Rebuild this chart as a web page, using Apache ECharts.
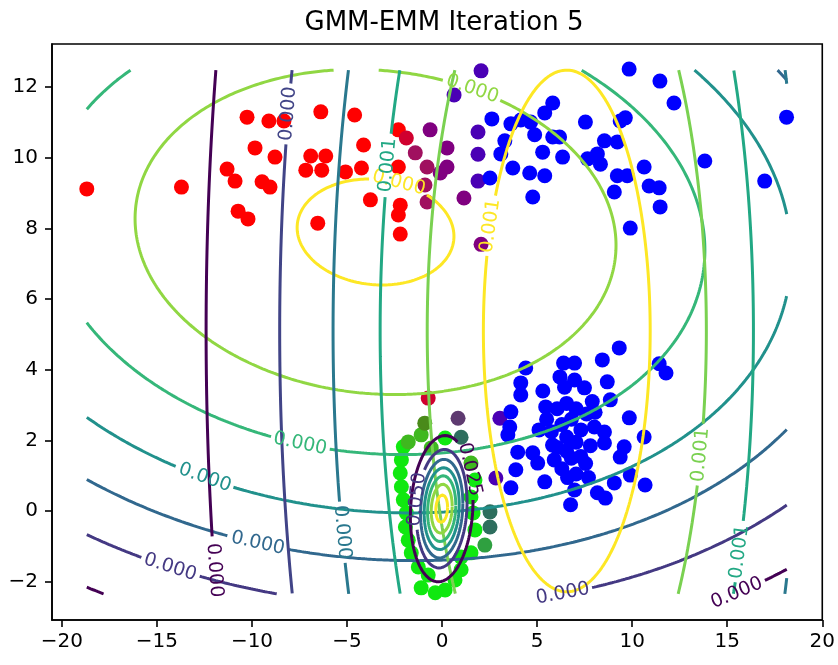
<!DOCTYPE html>
<html><head><meta charset="utf-8">
<script src="https://cdn.jsdelivr.net/npm/echarts@6/dist/echarts.min.js"></script>
<style>html,body{margin:0;padding:0;background:#fff}#c{width:838px;height:665px}</style>
</head><body><div id="c"></div>
<script>
const chartTitle = 'GMM-EMM Iteration 5';
const xTicks = [-20, -15, -10, -5, 0, 5, 10, 15, 20];
const yTicks = [-2, 0, 2, 4, 6, 8, 10, 12];
const xLimits = [-20.52, 20.0];
const yLimits = [-3.08, 13.22];
const gridExtent = [-18.69, 18.13, -2.34, 12.48]; // x0, x1, y0, y1 of the contour grid

// scatter points, grouped by responsibility colour
const redPts = [[-18.69,9.12],[-13.71,9.17],[-10.26,11.15],[-9.11,11.04],[-8.32,11.04],[-6.38,11.30],[-4.60,11.21],[-9.84,10.28],[-8.79,10.02],[-6.91,10.05],[-6.12,10.05],[-11.31,9.68],[-10.89,9.34],[-9.47,9.32],[-9.05,9.17],[-7.17,9.65],[-6.33,9.65],[-5.08,9.60],[-10.73,8.49],[-10.21,8.27],[-6.54,8.15],[-4.13,10.36],[-4.24,9.71],[-2.30,10.79],[-2.30,9.74],[-3.77,8.81],[-2.20,8.66],[-2.30,8.38],[-2.20,7.84]];
const darkRedPts = [[-1.88,10.56],[-0.73,3.20]];
const maroonPts = [[-1.41,10.14],[-0.79,9.74],[-0.90,9.23],[-0.79,8.75]];
const purplePts = [[-0.63,10.79],[0.26,10.28],[0.26,9.74],[-0.10,9.57],[1.15,8.86],[2.05,7.55]];
const violetPts = [[0.63,11.78],[1.89,10.73],[1.89,10.10],[1.89,9.34],[2.05,12.46],[3.04,2.63],[2.83,0.94]];
const bluePts = [[9.84,12.51],[11.46,12.17],[12.20,11.55],[13.82,9.91],[16.97,9.34],[18.12,11.15],[5.82,11.55],[5.40,11.27],[2.62,11.10],[3.62,10.96],[4.14,11.07],[4.66,11.01],[7.54,11.01],[9.64,11.13],[9.37,11.04],[4.87,10.65],[5.82,10.59],[6.18,10.59],[3.30,10.48],[5.29,10.16],[6.34,10.02],[8.54,10.48],[9.22,10.45],[3.09,10.11],[7.65,9.97],[8.17,10.11],[8.33,9.82],[10.63,9.74],[9.22,9.49],[9.74,9.49],[3.72,9.71],[2.52,9.43],[4.61,9.57],[5.40,9.49],[10.89,9.20],[11.42,9.15],[9.06,9.03],[11.47,8.61],[4.77,8.89],[9.90,8.01],
 [9.32,4.62],[8.43,4.28],[6.39,4.19],[6.97,4.19],[4.40,4.05],[11.42,4.17],[11.78,3.91],[4.14,3.63],[4.14,3.29],[6.44,3.51],[6.97,3.71],[7.49,3.49],[8.69,3.66],[3.62,2.81],[3.56,2.38],[3.46,2.16],[5.45,2.95],[8.85,3.15],[9.85,2.64],[10.63,2.10],[3.98,1.67],[4.77,1.65],[5.03,1.36],[3.88,1.17],[3.62,0.66],[5.40,0.83],[6.97,0.60],[8.17,0.52],[10.68,0.74],[9.90,1.02],[8.54,1.93],[9.58,1.82],[9.37,1.53],[8.54,2.24],[8.01,2.38],[6.76,0.18],[8.59,0.37],[9.06,0.80],
 [6.05,2.90],[6.55,3.05],[7.05,2.90],[7.60,2.75],[6.80,2.60],[6.30,2.45],[7.30,2.30],[5.75,2.25],[6.55,2.10],[7.05,1.95],[6.05,1.80],[6.80,1.50],[7.55,1.35],[6.30,1.20],[7.05,1.05],[7.80,1.85],[8.05,2.80],[5.50,2.60],
 [5.81,1.87],[6.55,1.70],[7.30,1.55],[5.90,1.45],[6.60,0.95],[7.70,0.95],[5.10,2.30],[5.30,3.40],[7.90,3.10],[6.20,3.80]];
const greenPts = [[-2.04,1.82],[-2.14,1.45],[-2.20,1.08],[-2.14,0.69],[-2.04,0.32],[-1.88,-0.05],[-1.93,-0.45],[-1.78,-0.82],[-1.62,-1.18],[-1.25,-1.58],[-0.73,-1.81],[-1.10,-2.17],[-0.36,-2.31],[0.16,-2.23],[0.68,-1.95],[1.00,-1.66],[1.73,0.88],[1.52,0.40],[1.63,-0.05],[1.73,-0.53],[1.52,-1.18],[1.00,-1.30],[0.16,2.07]];
const leafGreenPts = [[-1.10,2.16],[-1.78,1.96],[-0.57,1.79],[1.52,1.36]];
const oliveGreenPts = [[-0.91,2.49]];
const darkTealPts = [[2.52,-0.02],[2.52,-0.45],[1.00,2.09]];
const duskyPurplePts = [[0.84,2.63]];
const mossGreenPts = [[2.25,-0.96]];

// Gaussian components of the mixture and the contour radii read for each level (lowest level first)
const compA = { center: [-3.5, 7.9], sigma: [2.75, 1.0], rho: -0.082, radii: [11.9, 10.6, 9.3, 7.95, 6.3, 4.6, 1.5] };
const compB = { center: [6.56, 5.1], sigma: [9.75, 16.4], rho: 0.0, radii: [1.946, 1.549, 1.261, 1.007, 0.753, 0.450] };
const compC = { center: [-0.02, 0.07], sigma: [0.82, 1.03], rho: 0.11, radii: [2.009, 1.627, 1.356, 1.124, 0.904, 0.672, 0.378] };

// contour labels: component, level index, approximate position, text
const contourLabels = [
  ['A',6,-2.28,9.3,'0.000'],['A',5,1.64,12.05,'0.000'],['A',4,-7.52,1.72,'0.000'],['A',3,-12.49,0.87,'0.000'],
  ['A',2,-9.72,-1.05,'0.000'],['A',1,-14.44,-1.72,'0.000'],['A',1,4.94,-2.17,'0.000'],['A',0,14.45,-1.81,'0.000'],
  ['B',0,-11.81,-1.73,'0.000'],['B',1,-8.05,11.25,'0.000'],['B',2,-5.07,-0.6,'0.000'],['B',3,-2.81,9.78,'0.001'],
  ['B',3,15.6,-1.17,'0.001'],['B',4,13.52,1.58,'0.001'],['B',5,2.3,8.08,'0.001'],
  ['C',0,1.27,1.16,'0.025'],['C',1,-0.98,0.31,'0.050']
];

const viridis7 = ['#440154','#443983','#31688e','#21918c','#35b779','#90d743','#fde725'];
const viridis6 = ['#440154','#414487','#2a788e','#22a884','#7ad151','#fde725'];

const G = { left: 52, top: 44, width: 774, height: 576 };
function toPx(p) {
  return [G.left + (p[0] - xLimits[0]) / (xLimits[1] - xLimits[0]) * G.width,
          G.top + (yLimits[1] - p[1]) / (yLimits[1] - yLimits[0]) * G.height];
}
const B = { x0: gridExtent[0], x1: gridExtent[1], y0: gridExtent[2], y1: gridExtent[3] };
function inside(p) { return p[0] >= B.x0 && p[0] <= B.x1 && p[1] >= B.y0 && p[1] <= B.y1; }
function cross(pIn, pOut) {
  let t = 1; const dx = pOut[0] - pIn[0], dy = pOut[1] - pIn[1];
  if (pOut[0] < B.x0) t = Math.min(t, (B.x0 - pIn[0]) / dx);
  if (pOut[0] > B.x1) t = Math.min(t, (B.x1 - pIn[0]) / dx);
  if (pOut[1] < B.y0) t = Math.min(t, (B.y0 - pIn[1]) / dy);
  if (pOut[1] > B.y1) t = Math.min(t, (B.y1 - pIn[1]) / dy);
  return [pIn[0] + t * dx, pIn[1] + t * dy];
}
function ellipse(comp, r) {
  const n = 1440, k = Math.sqrt(1 - comp.rho * comp.rho), pts = [];
  for (let i = 0; i < n; i++) {
    const t = 2 * Math.PI * i / n;
    pts.push([comp.center[0] + r * comp.sigma[0] * Math.cos(t),
              comp.center[1] + r * comp.sigma[1] * (comp.rho * Math.cos(t) + k * Math.sin(t))]);
  }
  return pts;
}
const comps = { A: { c: compA, colors: viridis7 }, B: { c: compB, colors: viridis6 }, C: { c: compC, colors: viridis7 } };
const series = [];
function scatter(pts, color) {
  series.push({ type: 'scatter', data: pts, symbolSize: 15, itemStyle: { color: color, opacity: 1 }, z: 2, silent: true, animation: false });
}
scatter(redPts, '#ff0000'); scatter(darkRedPts, '#d0002f'); scatter(maroonPts, '#a0105f'); scatter(purplePts, '#800080');
scatter(violetPts, '#4a00b5'); scatter(bluePts, '#0000ff'); scatter(greenPts, '#10e810'); scatter(leafGreenPts, '#3fb81f');
scatter(oliveGreenPts, '#4a8a1a'); scatter(darkTealPts, '#2e6e5e'); scatter(duskyPurplePts, '#5e3a70'); scatter(mossGreenPts, '#2fa040');

const GAP = 30;
Object.keys(comps).forEach(key => {
  const { c, colors } = comps[key];
  c.radii.forEach((r, li) => {
    const pts = ellipse(c, r), px = pts.map(toPx), n = pts.length;
    const labs = contourLabels.filter(l => l[0] === key && l[1] === li).map(l => {
      const target = toPx([l[2], l[3]]);
      let best = 0, bd = 1e18;
      for (let i = 0; i < n; i++) { if (!inside(pts[i])) continue; const d = (px[i][0]-target[0])**2 + (px[i][1]-target[1])**2; if (d < bd) { bd = d; best = i; } }
      const a = px[(best - 3 + n) % n], b = px[(best + 3) % n];
      let ang = Math.atan2(-(b[1] - a[1]), b[0] - a[0]) * 180 / Math.PI;
      if (ang > 90) ang -= 180; if (ang <= -90) ang += 180;
      return { p: pts[best], q: px[best], ang: ang, text: l[4] };
    });
    const state = pts.map((p, i) => !inside(p) ? 2 : (labs.some(L => Math.hypot(px[i][0]-L.q[0], px[i][1]-L.q[1]) < GAP) ? 1 : 0));
    const segs = []; let s = state.findIndex(v => v !== 0);
    if (s < 0) segs.push(pts.concat([pts[0]]));
    else {
      let cur = null;
      for (let j = 1; j <= n; j++) {
        const i = (s + j) % n, ip = (s + j - 1) % n;
        if (state[i] === 0) { if (!cur) { cur = []; if (state[ip] === 2) cur.push(cross(pts[i], pts[ip])); } cur.push(pts[i]); }
        else if (cur) { if (state[i] === 2) cur.push(cross(pts[ip], pts[i])); segs.push(cur); cur = null; }
      }
      if (cur) segs.push(cur);
    }
    segs.forEach(seg => series.push({ type: 'line', data: seg, showSymbol: false, symbol: 'none', smooth: false,
      lineStyle: { width: 3, color: colors[li] }, z: 3, silent: true, animation: false }));
    labs.forEach(L => series.push({ type: 'custom', data: [L.p], z: 4, silent: true, animation: false,
      renderItem: (params, api) => { const cpt = api.coord([api.value(0), api.value(1)]);
        return { type: 'text', x: cpt[0], y: cpt[1], rotation: L.ang * Math.PI / 180,
          style: { text: L.text, fill: colors[li], font: '19px "DejaVu Sans"', align: 'center', verticalAlign: 'middle' } }; } }));
  });
});

const fmt = v => (v < 0 ? '\u2212' + Math.abs(v) : String(v));
const chart = echarts.init(document.getElementById('c'), null, { renderer: 'canvas' });
chart.setOption({
  animation: false,
  backgroundColor: '#ffffff',
  title: { text: chartTitle, left: 439, top: 5, textAlign: 'center',
    textStyle: { fontFamily: 'DejaVu Sans', fontSize: 26, fontWeight: 'normal', color: '#000' } },
  grid: { left: G.left, top: G.top, width: G.width, height: G.height, show: true, borderColor: '#000', borderWidth: 1.6, backgroundColor: 'transparent' },
  xAxis: { type: 'value', min: xLimits[0], max: xLimits[1], splitLine: { show: false },
    axisLine: { show: true, onZero: false, lineStyle: { color: '#000', width: 1.6 } },
    axisTick: { show: true, customValues: xTicks, length: 7, lineStyle: { color: '#000', width: 1.6 } },
    axisLabel: { customValues: xTicks, formatter: fmt, margin: 12, color: '#000', fontSize: 20, fontFamily: 'DejaVu Sans' } },
  yAxis: { type: 'value', min: yLimits[0], max: yLimits[1], splitLine: { show: false },
    axisLine: { show: true, onZero: false, lineStyle: { color: '#000', width: 1.6 } },
    axisTick: { show: true, customValues: yTicks, length: 7, lineStyle: { color: '#000', width: 1.6 } },
    axisLabel: { customValues: yTicks, formatter: fmt, margin: 14, color: '#000', fontSize: 20, fontFamily: 'DejaVu Sans' } },
  series: series
});
</script></body></html>
